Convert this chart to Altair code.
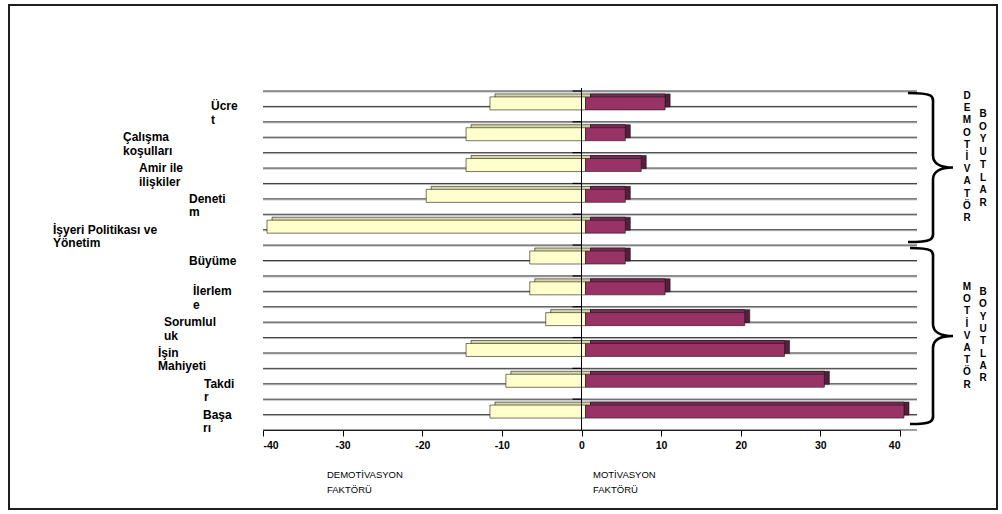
import altair as alt
import pandas as pd

# ---- data -------------------------------------------------------------
categories = [
    "Ücret", "Çalışma koşulları", "Amir ile ilişkiler", "Denetim",
    "İşyeri Politikası ve Yönetim", "Büyüme", "İlerleme", "Sorumluluk",
    "İşin Mahiyeti", "Takdir", "Başarı",
]
# category names as they are wrapped on the chart
label_lines = [
    ["Ücre", "t"], ["Çalışma", "koşulları"], ["Amir ile", "ilişkiler"],
    ["Deneti", "m"], ["İşyeri Politikası ve", "Yönetim"], ["Büyüme"],
    ["İlerlem", "e"], ["Sorumlul", "uk"], ["İşin", "Mahiyeti"],
    ["Takdi", "r"], ["Başa", "rı"],
]
demotivation = [-12, -15, -15, -20, -40, -7, -7, -5, -15, -10, -12]
motivation = [10, 5, 7, 5, 5, 5, 10, 20, 25, 30, 40]
x_ticks = [-40, -30, -20, -10, 0, 10, 20, 30, 40]

# ---- layout -------------------------------------------------------------
W, H = 637, 339
PAD = {"left": 263, "top": 91, "right": 1002 - 263 - W, "bottom": 514 - 91 - H}
# left edge (px from the plot's left side) of each wrapped category label
label_left = [-52, -140, -124, -74, -210, -74, -70, -99, -105, -59, -60]
FONT = "Liberation Sans"

DEPTH_X, DEPTH_Y = 5, -3      # 3-D depth of the bars
FRONT_DX, FRONT_DY = 4, -3    # front face shift inside the band
BAR_H = 13

demo_df = pd.DataFrame({"cat": categories, "v": demotivation, "zero": 0})
moti_df = pd.DataFrame({"cat": categories, "v": motivation, "zero": 0})
cat_df = pd.DataFrame({"cat": categories, "zero": 0})
lab_df = pd.DataFrame({"cat": categories, "lines": label_lines, "left": label_left})

ys = alt.Scale(domain=categories, paddingInner=0, paddingOuter=0)
xs = alt.Scale(domain=[-40, 40], nice=False, zero=False)
x_axis = alt.Axis(
    values=x_ticks, title=None, grid=False, domainColor="black", tickColor="black",
    tickSize=6, labelFont=FONT, labelFontSize=10.5, labelFontWeight="bold",
    labelColor="black", labelPadding=4, domainWidth=1, tickWidth=1,
    labelExpr="'' + datum.value",
)
X = alt.X("v:Q", scale=xs, axis=x_axis)
X2 = alt.X2("zero:Q")
Y = alt.Y("cat:N", scale=ys, axis=None, sort=categories)


def bar(df, color, dx_v, dx_0, dy):
    return alt.Chart(df).mark_bar(
        height=BAR_H, color=color, stroke="#1a1a1a", strokeWidth=0.6,
        xOffset=dx_v, x2Offset=dx_0, yOffset=dy,
    ).encode(x=X, x2=X2, y=Y)


# ---- grid lines (band edges and band centres) ---------------------------
grid_w = W + 17


def grid(band_pos, color, offset):
    return alt.Chart(cat_df).mark_rule(color=color, strokeWidth=1, yOffset=offset).encode(
        y=alt.Y("cat:N", scale=ys, axis=None, sort=categories, bandPosition=band_pos),
        x=alt.value(0), x2=alt.value(grid_w),
    )


edges_shadow = grid(0, "#b4b4b4", 1)
centres_shadow = grid(0.5, "#b4b4b4", 1)
edges = grid(0, "#3c3c3c", 0)
centres = grid(0.5, "#3c3c3c", 0)
bottom_edge = alt.Chart(cat_df.head(1)).mark_rule(color="#3c3c3c").encode(
    y=alt.value(H), x=alt.value(0), x2=alt.value(grid_w),
)

# short category ticks on the zero line
zero_ticks = alt.Chart(cat_df).mark_rule(
    color="black", strokeWidth=1.2, xOffset=-9, x2Offset=0,
).encode(
    y=alt.Y("cat:N", scale=ys, axis=None, sort=categories, bandPosition=0),
    x=alt.X("zero:Q", scale=xs, axis=x_axis), x2=alt.X2("zero:Q"),
)

# ---- 3-D bars -----------------------------------------------------------
back_dy = FRONT_DY + DEPTH_Y
back_dx = FRONT_DX + DEPTH_X
demo_top = bar(demo_df, "#d6d6a4", back_dx, back_dx, back_dy)
moti_side = bar(moti_df, "#5a1c3c", back_dx, back_dx, back_dy)
moti_top = bar(moti_df, "#7a2a55", FRONT_DX, back_dx, back_dy)
demo_front = bar(demo_df, "#ffffcc", FRONT_DX, FRONT_DX, FRONT_DY)
moti_front = bar(moti_df, "#993366", FRONT_DX, FRONT_DX, FRONT_DY)

# zero line
zero_line = alt.Chart(cat_df.head(1)).mark_rule(color="black", strokeWidth=1).encode(
    x=alt.X("zero:Q", scale=xs, axis=x_axis), y=alt.value(-3), y2=alt.value(H),
)

# ---- category labels ----------------------------------------------------
labels = alt.Chart(lab_df).mark_text(
    align="left", baseline="top", dy=-5, font=FONT, fontSize=12,
    fontWeight="bold", lineHeight=13.5, color="black",
).encode(x=alt.X("left:Q", scale=None), y=Y, text="lines")

# ---- braces and group captions on the right -----------------------------
def brace_path(half_h, stem, reach, r=12):
    k = 1.0 / half_h
    pts = [
        ("M", [(-reach, -half_h)]),
        ("C", [(-stem + 3, -half_h), (-stem, -half_h + 4), (-stem, -half_h + r)]),
        ("L", [(-stem, -r)]),
        ("C", [(-stem, -4), (-stem + 7, 0), (0, 0)]),
        ("C", [(-stem + 7, 0), (-stem, 4), (-stem, r)]),
        ("L", [(-stem, half_h - r)]),
        ("C", [(-stem, half_h - 4), (-stem + 3, half_h), (-reach, half_h)]),
    ]
    out = []
    for cmd, ps in pts:
        out.append(cmd + " " + " ".join(f"{x * k:.4f},{y * k:.4f}" for x, y in ps))
    return " ".join(out)


one = pd.DataFrame({"k": [0]})


def brace(cx, cy, half_h, stem, reach):
    return alt.Chart(one).mark_point(
        shape=brace_path(half_h, stem, reach), size=(2 * half_h) ** 2, filled=False,
        stroke="black", strokeWidth=2.6, opacity=1,
    ).encode(x=alt.value(cx), y=alt.value(cy))


def column_text(letters, cx, top, lh):
    # the y position is that of the first letter
    return alt.Chart(one).mark_text(
        align="center", baseline="middle", font=FONT, fontSize=10,
        fontWeight="bold", lineHeight=lh, color="black",
    ).encode(x=alt.value(cx), y=alt.value(top), text=alt.value(letters))


brace1 = brace(690, 76.5, 74.5, 20, 45)
brace2 = brace(690, 245, 88, 20, 43)
cap1a = column_text(list("DEMOTİVATÖR"), 704, 5, 12.2)
cap1b = column_text(list("BOYUTLAR"), 720, 23, 12.7)
cap2a = column_text(list("MOTİVATÖR"), 704, 196, 12.2)
cap2b = column_text(list("BOYUTLAR"), 720, 201, 12.3)


def bottom_title(lines, left):
    return alt.Chart(one).mark_text(
        align="left", baseline="middle", font=FONT, fontSize=9.5,
        lineHeight=15, color="black",
    ).encode(x=alt.value(left), y=alt.value(384), text=alt.value(lines))


title_left = bottom_title(["DEMOTİVASYON", "FAKTÖRÜ"], 64)
title_right = bottom_title(["MOTİVASYON", "FAKTÖRÜ"], 330)

# outer frame
frame = alt.Chart(one).mark_rect(fillOpacity=0, stroke="#1e1e1e", strokeWidth=2).encode(
    x=alt.value(-254), x2=alt.value(734), y=alt.value(-86), y2=alt.value(418),
)

chart = alt.layer(
    frame, edges_shadow, centres_shadow, edges, centres, bottom_edge, zero_ticks,
    demo_top, moti_side, moti_top, demo_front, moti_front, zero_line,
    labels, brace1, brace2, cap1a, cap1b, cap2a, cap2b, title_left, title_right,
).properties(
    width=W, height=H, padding=PAD, autosize=alt.AutoSizeParams(type="none"),
    background="white",
).configure_view(stroke=None)

chart.save("out.html", embed_options={"renderer": "svg", "actions": False})
